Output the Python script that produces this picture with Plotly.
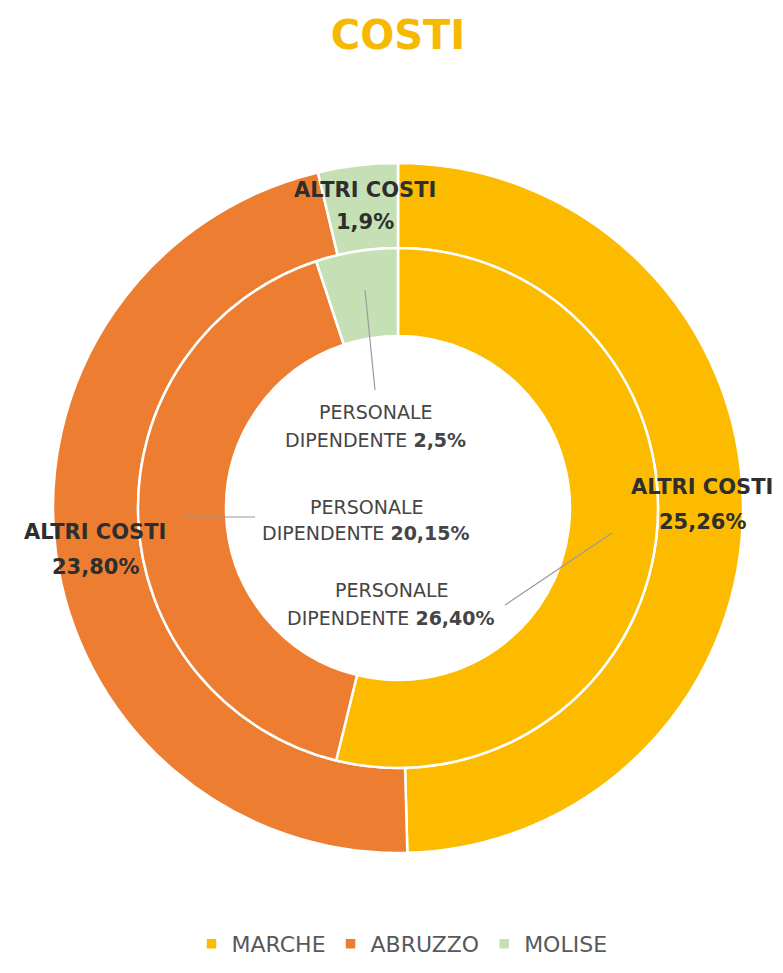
import plotly.graph_objects as go

# DATA
regions = ['MARCHE', 'ABRUZZO', 'MOLISE']
altri_costi = [25.26, 23.80, 1.9]            # outer ring
personale_dipendente = [26.40, 20.15, 2.5]   # inner ring
altri_labels = ['25,26%', '23,80%', '1,9%']
personale_labels = ['26,40%', '20,15%', '2,5%']

colors = ['#FDBB00', '#ED7D31', '#C5E0B4']

# the page body has an 8px margin, so the figure is a bit smaller
# and page pixel positions are converted with that offset
OFF = 8
W, H = 783 - 2 * OFF, 973 - 2 * OFF


def px(x):
    return (x - OFF) / W


def py(y):
    return 1 - (y - OFF) / H


# geometry of the rings (page pixels)
cx, cy = 398, 508
r_out, r_mid, r_in = 345, 260, 172

fig = go.Figure()

# outer ring - altri costi
fig.add_trace(go.Pie(
    labels=regions,
    values=altri_costi,
    sort=False,
    direction='clockwise',
    rotation=0,
    hole=r_mid / r_out,
    textinfo='none',
    marker=dict(colors=colors, line=dict(color='white', width=2.5)),
    domain=dict(x=[px(cx - r_out), px(cx + r_out)], y=[py(cy + r_out), py(cy - r_out)]),
    showlegend=True,
))

# inner ring - personale dipendente
fig.add_trace(go.Pie(
    labels=regions,
    values=personale_dipendente,
    sort=False,
    direction='clockwise',
    rotation=0,
    hole=r_in / r_mid,
    textinfo='none',
    marker=dict(colors=colors, line=dict(color='white', width=2.5)),
    domain=dict(x=[px(cx - r_mid), px(cx + r_mid)], y=[py(cy + r_mid), py(cy - r_mid)]),
    showlegend=False,
))

annotations = []


def add_text(x, y, text, size, color, family='DejaVu Sans'):
    annotations.append(dict(
        x=px(x), y=py(y), xref='paper', yref='paper',
        text=text, showarrow=False, xanchor='center', yanchor='middle',
        font=dict(size=size, color=color, family=family),
    ))


# outer ring labels (bold)
dark = '#2E2E2E'
outer_pos = [(702, 487, 522), (95, 532, 567), (365, 190, 222)]
for (x, y1, y2), lab in zip(outer_pos, altri_labels):
    add_text(x, y1, '<b>ALTRI COSTI</b>', 21, dark)
    add_text(x, y2, '<b>' + lab + '</b>', 21, dark)

# inner ring labels
mid = '#454545'
inner_pos = [(391, 590, 618), (366, 507, 533), (375, 412, 440)]
for (x, y1, y2), lab in zip(inner_pos, personale_labels):
    add_text(x, y1, 'PERSONALE', 19, mid)
    add_text(x, y2, 'DIPENDENTE <b>' + lab + '</b>', 19, mid)

# leader lines
leaders = [((505, 605), (612, 533)), ((183, 517), (255, 517)), ((375, 390), (365, 290))]
shapes = []
for (x0, y0), (x1, y1) in leaders:
    shapes.append(dict(
        type='line', xref='paper', yref='paper',
        x0=px(x0), y0=py(y0), x1=px(x1), y1=py(y1),
        line=dict(color='#9A9A9A', width=1.2),
    ))

fig.update_layout(
    width=W,
    height=H,
    paper_bgcolor='white',
    plot_bgcolor='white',
    margin=dict(l=0, r=0, t=0, b=0),
    title=dict(
        text='<b>COSTI</b>',
        x=px(398), y=py(35), xanchor='center', yanchor='middle',
        font=dict(size=40, color='#F7B800', family='DejaVu Sans'),
    ),
    # keep the legend fully inside the paper so it does not push the margins
    legend=dict(
        orientation='h',
        x=px(402), y=0, xanchor='center', yanchor='bottom',
        font=dict(size=22, color='#595959', family='DejaVu Sans'),
        itemwidth=30,
    ),
    annotations=annotations,
    shapes=shapes,
)

fig.write_html('out.html')
